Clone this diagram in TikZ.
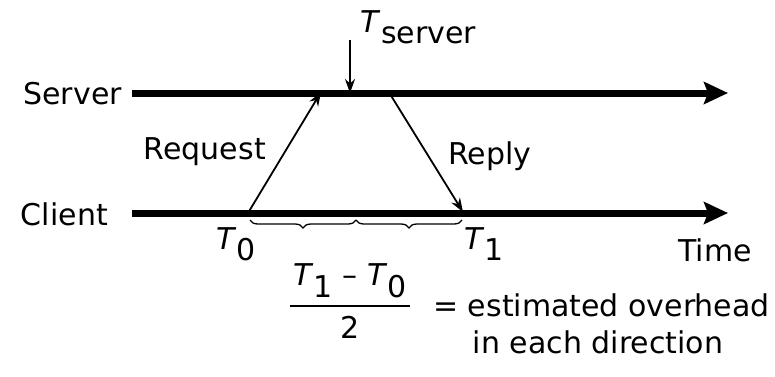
\documentclass[tikz,border=0pt]{standalone}
\usepackage{fontspec}
\setmainfont{DejaVu Sans}
\usepackage{tikz}
\usetikzlibrary{arrows.meta, decorations.pathreplacing}

\newcommand{\tsub}[1]{\textit{T}\kern0.02em\raisebox{-0.38em}{#1}}

\begin{document}
\begin{tikzpicture}[x=1pt, y=-1pt, font=\fontsize{30}{36}\selectfont,
    axis/.style={line width=7pt, -{Stealth[length=24pt,width=22pt,inset=4pt]}},
    msg/.style={line width=1.8pt, -{Stealth[length=14pt,width=10pt]}},
    halfbrace/.style={decorate, line width=1.3pt,
        decoration={brace, mirror, amplitude=8pt}},
    lbl/.style={inner sep=0pt}]
    \useasboundingbox (0,0) rectangle (775,376);
    % time lines
    \coordinate (S0) at (132,93);  \coordinate (S1) at (728,93);
    \coordinate (C0) at (132,213); \coordinate (C1) at (728,213);
    \draw[axis] (S0) -- (S1);
    \draw[axis] (C0) -- (C1);
    \node[lbl, anchor=east] (server) at (122,94) {Server};
    \node[lbl, anchor=east] (client) at (108,214) {Client};
    \node[lbl, anchor=north east] (time) at (752,238) {Time};
    % messages
    \coordinate (A) at (248,213); \coordinate (B) at (321,92);
    \coordinate (M) at (350,93);  \coordinate (Mt) at (350,40);
    \coordinate (C) at (390,94);  \coordinate (D) at (463,212);
    \draw[msg] (A) -- (B);
    \draw[msg] (C) -- (D);
    \draw[msg] (Mt) -- (M);
    \node[lbl, anchor=east] (req) at (266,152) {Request};
    \node[lbl, anchor=west] (rep) at (448,156) {Reply};
    \node[lbl, anchor=west] (ts) at (360,27) {\tsub{server}};
    % half intervals
    \coordinate (A') at (250,220); \coordinate (M') at (356,220);
    \coordinate (D') at (462,220);
    \draw[halfbrace] (A') -- (M');
    \draw[halfbrace] (M') -- (D');
    \node[lbl] (t0) at (236,244) {\tsub{0}};
    \node[lbl] (t1) at (484,244) {\tsub{1}};
    % estimate
    \coordinate (F0) at (290,306); \coordinate (F1) at (410,306);
    \draw[line width=1.8pt] (F0) -- (F1);
    \node[lbl, anchor=south] (num) at (350,298) {\tsub{1} -- \tsub{0}};
    \node[lbl, anchor=north] (den) at (350,316) {2};
    \node[lbl, anchor=east] (eq) at (770,305) {= estimated overhead};
    \node[lbl, anchor=north] (dir) at (598,330) {in each direction};
\end{tikzpicture}
\end{document}
